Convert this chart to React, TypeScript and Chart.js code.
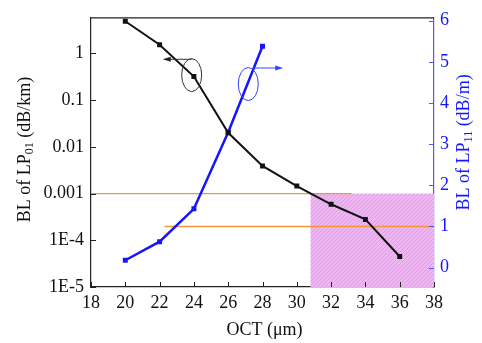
import React, { useEffect, useRef } from "react";
import { Chart, registerables } from "chart.js";
Chart.register(...registerables);

// ---- data ----
const octLP01 = [20, 22, 24, 26, 28, 30, 32, 34, 36];
const blLP01 = [4.9, 1.54, 0.32, 0.02, 0.0039, 0.00145, 0.00059, 0.00028, 0.000045];
const octLP11 = [20, 22, 24, 26, 28];
const blLP11 = [0.18, 0.63, 1.43, 3.29, 5.38];

const xTickValues = [18, 20, 22, 24, 26, 28, 30, 32, 34, 36, 38];
const leftTickValues = [1e-5, 1e-4, 1e-3, 1e-2, 1e-1, 1];
const leftTickLabels = ["1E-5", "1E-4", "0.001", "0.01", "0.1", "1"];
const rightTickValues = [0, 1, 2, 3, 4, 5, 6];

// reference lines / region (data units)
const lossLimitLP01 = 0.001; // dB/km, left axis
const lossLimitLP11 = 1; // dB/m, right axis
const limitLine1X = [18, 33.2];
const limitLine2X = [22.3, 38];
const regionX = [30.8, 38];

// annotation anchors (data units)
const blackEllipse = { x: 23.87, y: 0.344 };
const blackArrow = { x0: 23.87, x1: 22.18, y: 0.75 };
const blueEllipse = { x: 27.17, y: 4.46 };
const blueArrow = { x0: 27.46, x1: 29.21, y: 4.85 };

const FONT = '"Liberation Serif", "Times New Roman", serif';
const BLUE = "#1515ff";
const FS = 18;

function makeHatch(): CanvasPattern | string {
  const c = document.createElement("canvas");
  c.width = 4;
  c.height = 4;
  const g = c.getContext("2d");
  if (!g) return "#efb2f3";
  g.fillStyle = "#f0b6f4";
  g.fillRect(0, 0, 4, 4);
  g.strokeStyle = "#dc98e6";
  g.lineWidth = 0.9;
  g.beginPath();
  g.moveTo(0, 4);
  g.lineTo(4, 0);
  g.moveTo(-1, 1);
  g.lineTo(1, -1);
  g.moveTo(3, 5);
  g.lineTo(5, 3);
  g.stroke();
  const p = g.createPattern(c, "repeat");
  return p || "#efb2f3";
}

function arrowHead(ctx: CanvasRenderingContext2D, x: number, y: number, dir: number, color: string) {
  ctx.fillStyle = color;
  ctx.beginPath();
  ctx.moveTo(x, y);
  ctx.lineTo(x - dir * 8, y - 2.5);
  ctx.lineTo(x - dir * 8, y + 2.5);
  ctx.closePath();
  ctx.fill();
}

function drawRotatedTitle(
  ctx: CanvasRenderingContext2D,
  cx: number,
  cy: number,
  parts: { t: string; sub?: boolean }[],
  color: string
) {
  ctx.save();
  ctx.translate(cx, cy);
  ctx.rotate(-Math.PI / 2);
  ctx.fillStyle = color;
  ctx.textBaseline = "middle";
  ctx.textAlign = "left";
  const mainFont = `${FS}px ${FONT}`;
  const subFont = `12px ${FONT}`;
  let total = 0;
  for (const p of parts) {
    ctx.font = p.sub ? subFont : mainFont;
    total += ctx.measureText(p.t).width;
  }
  let x = -total / 2;
  for (const p of parts) {
    ctx.font = p.sub ? subFont : mainFont;
    ctx.fillText(p.t, x, p.sub ? 5 : 0);
    x += ctx.measureText(p.t).width;
  }
  ctx.restore();
}

const decorPlugin = {
  id: "decor",
  beforeDatasetsDraw(chart: any) {
    const { ctx, chartArea } = chart;
    const xs = chart.scales.x;
    const yl = chart.scales.yL;
    const yr = chart.scales.yR;
    ctx.save();
    const rx0 = xs.getPixelForValue(regionX[0]);
    const rx1 = xs.getPixelForValue(regionX[1]);
    const ry0 = yl.getPixelForValue(lossLimitLP01);
    ctx.fillStyle = makeHatch();
    ctx.fillRect(rx0, ry0, rx1 - rx0, chartArea.bottom - ry0);
    ctx.strokeStyle = "#f2963a";
    ctx.lineWidth = 1.3;
    ctx.beginPath();
    ctx.moveTo(xs.getPixelForValue(limitLine1X[0]), ry0);
    ctx.lineTo(xs.getPixelForValue(limitLine1X[1]), ry0);
    const ly = yr.getPixelForValue(lossLimitLP11);
    ctx.moveTo(xs.getPixelForValue(limitLine2X[0]), ly);
    ctx.lineTo(xs.getPixelForValue(limitLine2X[1]), ly);
    ctx.stroke();
    ctx.restore();
  },
  afterDatasetsDraw(chart: any) {
    const { ctx } = chart;
    const xs = chart.scales.x;
    const yl = chart.scales.yL;
    const yr = chart.scales.yR;
    ctx.save();
    ctx.strokeStyle = "#333";
    ctx.lineWidth = 1;
    ctx.beginPath();
    ctx.ellipse(xs.getPixelForValue(blackEllipse.x), yl.getPixelForValue(blackEllipse.y), 10, 16.5, 0, 0, Math.PI * 2);
    ctx.stroke();
    const bay = yl.getPixelForValue(blackArrow.y);
    const bx0 = xs.getPixelForValue(blackArrow.x0);
    const bx1 = xs.getPixelForValue(blackArrow.x1);
    ctx.beginPath();
    ctx.moveTo(bx0, bay);
    ctx.lineTo(bx1 + 4, bay);
    ctx.stroke();
    arrowHead(ctx, bx1, bay, -1, "#222");
    ctx.strokeStyle = "#3344ff";
    ctx.beginPath();
    ctx.ellipse(xs.getPixelForValue(blueEllipse.x), yr.getPixelForValue(blueEllipse.y), 10, 16.5, 0, 0, Math.PI * 2);
    ctx.stroke();
    const uay = yr.getPixelForValue(blueArrow.y);
    const ux0 = xs.getPixelForValue(blueArrow.x0);
    const ux1 = xs.getPixelForValue(blueArrow.x1);
    ctx.beginPath();
    ctx.moveTo(ux0, uay);
    ctx.lineTo(ux1 - 4, uay);
    ctx.stroke();
    arrowHead(ctx, ux1, uay, 1, "#3344ff");
    ctx.restore();
  },
  afterDraw(chart: any) {
    const { ctx, chartArea } = chart;
    const xs = chart.scales.x;
    const yl = chart.scales.yL;
    const yr = chart.scales.yR;
    ctx.save();
    ctx.strokeStyle = "#222";
    ctx.lineWidth = 1.2;
    ctx.beginPath();
    ctx.moveTo(chartArea.left, chartArea.top);
    ctx.lineTo(chartArea.right, chartArea.top);
    ctx.stroke();
    ctx.lineWidth = 1;
    ctx.beginPath();
    for (const v of xTickValues) {
      const px = Math.round(xs.getPixelForValue(v)) + 0.5;
      ctx.moveTo(px, chartArea.bottom);
      ctx.lineTo(px, chartArea.bottom - 5);
    }
    for (const v of leftTickValues) {
      const py = Math.round(yl.getPixelForValue(v)) + 0.5;
      ctx.moveTo(chartArea.left, py);
      ctx.lineTo(chartArea.left + 5, py);
    }
    ctx.stroke();
    ctx.strokeStyle = "#5555ff";
    ctx.beginPath();
    for (const v of rightTickValues) {
      const py = Math.round(yr.getPixelForValue(v)) + 0.5;
      ctx.moveTo(chartArea.right, py);
      ctx.lineTo(chartArea.right - 5, py);
    }
    ctx.stroke();
    drawRotatedTitle(
      ctx,
      25,
      (chartArea.top + chartArea.bottom) / 2 - 3,
      [{ t: "BL of LP" }, { t: "01", sub: true }, { t: " (dB/km)" }],
      "#111"
    );
    drawRotatedTitle(
      ctx,
      464,
      (chartArea.top + chartArea.bottom) / 2 - 10,
      [{ t: "BL of LP" }, { t: "11", sub: true }, { t: " (dB/m)" }],
      BLUE
    );
    ctx.fillStyle = "#111";
    ctx.font = `${FS}px ${FONT}`;
    ctx.textAlign = "center";
    ctx.textBaseline = "middle";
    ctx.fillText("OCT (\u03bcm)", (chartArea.left + chartArea.right) / 2 + 2, 330);
    ctx.restore();
  },
};

export default function App() {
  const ref = useRef<HTMLCanvasElement | null>(null);
  useEffect(() => {
    if (!ref.current) return;
    const chart = new Chart(ref.current, {
      type: "line",
      data: {
        datasets: [
          {
            label: "LP01",
            data: octLP01.map((x, i) => ({ x, y: blLP01[i] })),
            yAxisID: "yL",
            borderColor: "#111",
            backgroundColor: "#111",
            borderWidth: 2,
            pointStyle: "rect",
            pointRadius: 3.5,
            pointBorderWidth: 0,
            tension: 0,
          },
          {
            label: "LP11",
            data: octLP11.map((x, i) => ({ x, y: blLP11[i] })),
            yAxisID: "yR",
            borderColor: BLUE,
            backgroundColor: BLUE,
            borderWidth: 2.5,
            pointStyle: "rect",
            pointRadius: 3.5,
            pointBorderWidth: 0,
            tension: 0,
          },
        ],
      },
      options: {
        responsive: false,
        animation: false,
        events: [],
        layout: { padding: { top: 10, left: 0, right: 0, bottom: 0 } },
        plugins: { legend: { display: false }, tooltip: { enabled: false } },
        scales: {
          x: {
            type: "linear",
            min: 18,
            max: 38,
            afterBuildTicks: (s: any) => {
              s.ticks = xTickValues.map((v) => ({ value: v }));
            },
            afterFit: (s: any) => {
              s.height = 56;
            },
            grid: { display: false, drawTicks: false },
            border: { display: true, color: "#222", width: 1.2 },
            ticks: {
              color: "#111",
              font: { family: FONT, size: FS },
              padding: 5,
              maxRotation: 0,
              autoSkip: false,
            },
          },
          yL: {
            type: "logarithmic",
            position: "left",
            min: 1e-5,
            max: 5.8,
            afterBuildTicks: (s: any) => {
              s.ticks = leftTickValues.map((v) => ({ value: v }));
            },
            afterFit: (s: any) => {
              s.width = 91;
            },
            grid: { display: false, drawTicks: false },
            border: { display: true, color: "#222", width: 1.2 },
            ticks: {
              color: "#111",
              font: { family: FONT, size: FS },
              padding: 7,
              autoSkip: false,
              callback: (v: any) => {
                const i = leftTickValues.findIndex((t) => Math.abs(Math.log10(t) - Math.log10(v)) < 1e-6);
                return i >= 0 ? leftTickLabels[i] : "";
              },
            },
          },
          yR: {
            type: "linear",
            position: "right",
            min: -0.47,
            max: 6.07,
            afterBuildTicks: (s: any) => {
              s.ticks = rightTickValues.map((v) => ({ value: v }));
            },
            afterFit: (s: any) => {
              s.width = 48;
            },
            grid: { display: false, drawTicks: false },
            border: { display: true, color: "#5555ff", width: 1.2 },
            ticks: {
              color: BLUE,
              font: { family: FONT, size: FS },
              padding: 6,
              autoSkip: false,
            },
          },
        },
      },
      plugins: [decorPlugin],
    } as any);
    return () => chart.destroy();
  }, []);
  return (
    <div style={{ position: "absolute", left: 0, top: 0, width: 482, height: 343, background: "#fff" }}>
      <canvas ref={ref} width={482} height={343} style={{ display: "block" }} />
    </div>
  );
}
